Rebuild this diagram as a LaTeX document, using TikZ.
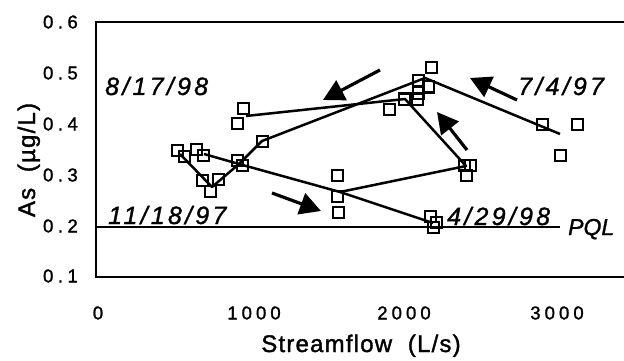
\documentclass[tikz,border=0pt]{standalone}
\usepackage{fontspec}
\setmainfont{Liberation Sans}[FakeBold=1.2]
\usetikzlibrary{arrows.meta}
\begin{document}
\begin{tikzpicture}[x=1pt,y=-1pt,
  sq/.style={draw,line width=2pt,minimum size=11pt,inner sep=0pt},
  ln/.style={line width=2.5pt,line join=round},
  frm/.style={line width=2.2pt},
  arr/.style={line width=3.2pt,-{Triangle[length=21pt,width=22pt]}},
  ticklab/.style={inner sep=0pt,font=\fontsize{18.5}{18.5}\selectfont\addfontfeature{LetterSpace=22,FakeBold=1.5}},
  yticklab/.style={inner sep=0pt,anchor=east,font=\fontsize{18.5}{18.5}\selectfont\addfontfeature{FakeBold=1.5}},
  datelab/.style={inner sep=0pt,anchor=base west,font=\fontsize{25}{25}\selectfont\itshape\addfontfeature{LetterSpace=13,FakeBold=1.2}},
  axtitle/.style={inner sep=0pt,anchor=base,font=\fontsize{24}{24}\selectfont\addfontfeature{LetterSpace=5,FakeBold=1.5}},
]
\useasboundingbox (0,0) rectangle (624,361);
% frame
\coordinate (tl) at (96,22);
\coordinate (tr) at (624,22);
\coordinate (bl) at (96,277);
\coordinate (br) at (624,277);
\draw[frm] (tr) -- (tl) -- (bl) -- (br);
% PQL line
\coordinate (p1) at (96,227);
\coordinate (p2) at (560,227);
\draw[frm] (p1) -- (p2);
% y tick labels
\foreach \v/\y in {6/22,5/73,4/124,3/175,2/226,1/276}
  \node[yticklab] (yl\y) at (78,\y) {0\kern4.5pt.\kern4.5pt\v};
% x tick labels
\foreach \v/\x in {0/96,1000/252,2000/402,3000/555}
  \node[ticklab] (xl\v) at (\x+2,313) {\v};
% axis titles
\node[axtitle] (xt) at (361,352) {Streamflow\ \ (L/s)};
\node[axtitle,rotate=90] (yt) at (35,160) {As\ \ (µg/L)};
% date labels
\node[datelab] (d1) at (105,95) {8/17/98};
\node[datelab] (d2) at (518,95) {7/4/97};
\node[datelab] (d3) at (108,224) {11/18/97};
\node[datelab] (d4) at (447,225) {4/29/98};
\node[datelab,font=\fontsize{23}{23}\selectfont\itshape\addfontfeature{FakeBold=1.2}] (pql) at (568,235) {PQL};
% line vertices
\coordinate (c1) at (180,154);
\coordinate (c2) at (212,187);
\coordinate (c3) at (239,164);
\coordinate (c4) at (204,154);
\coordinate (c5) at (262,141);
\coordinate (c6) at (425,78);
\coordinate (c7) at (560,134);
\coordinate (c8) at (246,116);
\coordinate (c9) at (405,99);
\coordinate (c10) at (466,166);
\coordinate (c11) at (340,192);
\coordinate (c12) at (433,223);
\draw[ln] (c1) -- (c2) -- (c3);
\draw[ln] (c4) -- (c3);
\draw[ln] (c3) -- (c5) -- (c6) -- (c7);
\draw[ln] (c8) -- (c9) -- (c10) -- (c11);
\draw[ln] (c3) -- (c11) -- (c12);
% arrows
\coordinate (a1s) at (380,70);  \coordinate (a1e) at (323,100);
\coordinate (a2s) at (517,100); \coordinate (a2e) at (470,78);
\coordinate (a3s) at (467,150); \coordinate (a3e) at (437,112);
\coordinate (a4s) at (272,193); \coordinate (a4e) at (321,211);
\draw[arr] (a1s) -- (a1e);
\draw[arr] (a2s) -- (a2e);
\draw[arr] (a3s) -- (a3e);
\draw[arr] (a4s) -- (a4e);
% data squares
\foreach \n/\x/\y in {1/177/150,2/184/156,3/196/149,4/203/155,5/202/180,6/210/191,7/218/179,8/237/160,9/242/165,
  10/243/108,11/237/123,12/262/141,
  13/431/68,14/418/81,15/428/87,16/418/93,17/417/99,18/404/99,19/389/109,
  20/464/165,21/470/165,22/466/175,
  23/337/175,24/337/196,25/338/212,
  26/430/216,27/436/222,28/433/227,
  29/542/124,30/577/124,31/560/155}
  \node[sq] (s\n) at (\x,\y) {};
\end{tikzpicture}
\end{document}
